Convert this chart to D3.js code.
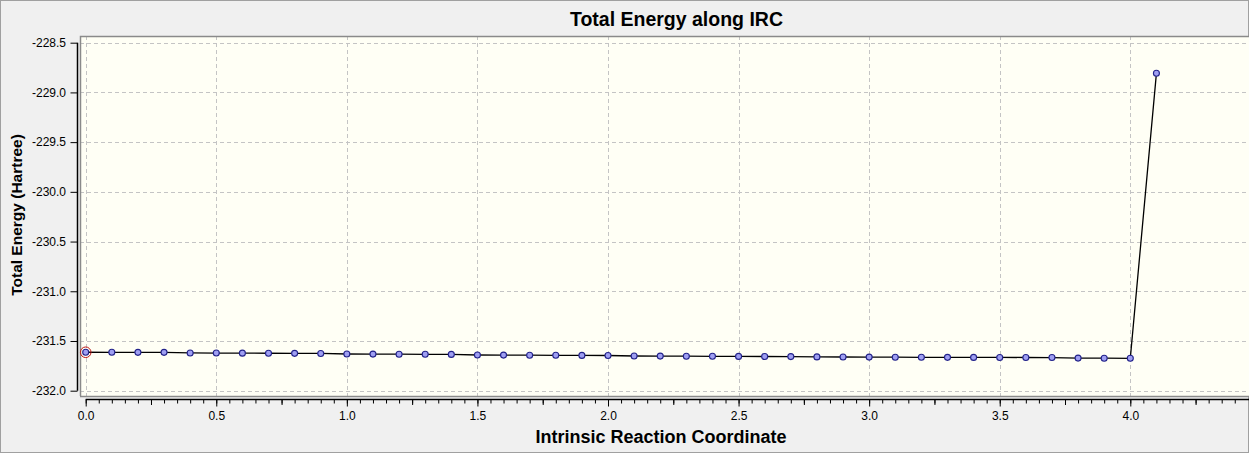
<!DOCTYPE html>
<html>
<head>
<meta charset="utf-8">
<title>Total Energy along IRC</title>
<script src="https://d3js.org/d3.v7.min.js"></script>
<style>
  body, html { margin: 0; padding: 0; background: #f0f0f0; }
  svg { display: block; font-family: "Liberation Sans", Arial, sans-serif; }
  .tick text { font-size: 12px; fill: #000; }
</style>
</head>
<body>
<svg id="chart" width="1249" height="453"></svg>
<script>
// IRC step coordinate
var coords = [0.0, 0.1, 0.2, 0.3, 0.4, 0.5, 0.6, 0.7, 0.8, 0.9,
              1.0, 1.1, 1.2, 1.3, 1.4, 1.5, 1.6, 1.7, 1.8, 1.9,
              2.0, 2.1, 2.2, 2.3, 2.4, 2.5, 2.6, 2.7, 2.8, 2.9,
              3.0, 3.1, 3.2, 3.3, 3.4, 3.5, 3.6, 3.7, 3.8, 3.9,
              4.0, 4.1];
// total energy (Hartree)
var energies = [-231.6135, -231.6138, -231.6141, -231.6145, -231.6205, -231.6215, -231.6225, -231.6235, -231.6245, -231.6255,
                -231.6310, -231.6320, -231.6330, -231.6340, -231.6350, -231.6410, -231.6420, -231.6430, -231.6440, -231.6450,
                -231.6460, -231.6510, -231.6520, -231.6530, -231.6540, -231.6550, -231.6560, -231.6570, -231.6600, -231.6610,
                -231.6620, -231.6630, -231.6640, -231.6645, -231.6650, -231.6655, -231.6660, -231.6665, -231.6720, -231.6730,
                -231.6740, -228.8080];
var yTicks = [-228.5, -229.0, -229.5, -230.0, -230.5, -231.0, -231.5, -232.0];
var xMajor = [0.0, 0.5, 1.0, 1.5, 2.0, 2.5, 3.0, 3.5, 4.0];
var xMid = [0.25, 0.75, 1.25, 1.75, 2.25, 2.75, 3.25, 3.75, 4.25];
var xMinor = d3.range(0, 89).map(function(i) { return i * 0.05; });

var W = 1249, H = 453;
var plot = { left: 80, top: 36, right: 1249, bottom: 396 };

var svg = d3.select("#chart");

var x = d3.scaleLinear().domain([0, 4]).range([85.7, 1130.3]);
var y = d3.scaleLinear().domain([-228.5, -232.0]).range([42.7, 390.7]);

// background + frame
svg.append("rect").attr("x", 0.5).attr("y", 0.5).attr("width", W - 1).attr("height", H - 1)
    .attr("fill", "#f0f0f0").attr("stroke", "#a0a0a0");

svg.append("rect")
    .attr("x", plot.left).attr("y", plot.top)
    .attr("width", plot.right - plot.left).attr("height", plot.bottom - plot.top)
    .attr("fill", "#fffff5");

// grid
var grid = svg.append("g").attr("stroke", "#c4c4c4").attr("stroke-dasharray", "4,3").attr("stroke-width", 1);
grid.selectAll("line.v").data(xMajor).enter().append("line")
    .attr("x1", function(d) { return Math.round(x(d)) + 0.5; })
    .attr("x2", function(d) { return Math.round(x(d)) + 0.5; })
    .attr("y1", plot.top).attr("y2", plot.bottom);
grid.selectAll("line.h").data(yTicks).enter().append("line")
    .attr("y1", function(d) { return Math.round(y(d)) + 0.5; })
    .attr("y2", function(d) { return Math.round(y(d)) + 0.5; })
    .attr("x1", plot.left).attr("x2", plot.right);

// plot border
svg.append("path")
    .attr("d", "M" + (plot.left + 0.5) + "," + plot.bottom + "V" + (plot.top + 0.5) + "H" + plot.right)
    .attr("fill", "none").attr("stroke", "#8a8a8a").attr("stroke-width", 1.5);
svg.append("line")
    .attr("x1", plot.left).attr("x2", plot.right)
    .attr("y1", plot.bottom + 0.5).attr("y2", plot.bottom + 0.5)
    .attr("stroke", "#8a8a8a").attr("stroke-width", 1.5);

// y axis
var yAxisG = svg.append("g").attr("transform", "translate(77.5,0)")
    .call(d3.axisLeft(y).tickValues(yTicks).tickSize(7).tickPadding(4.5)
        .tickFormat(d3.format(".1f")));
yAxisG.select(".domain").remove();
yAxisG.selectAll(".tick line").attr("stroke", "#000");
yAxisG.selectAll(".tick text").text(function(d) { return d3.format(".1f")(d).replace("\u2212", "-"); });
yAxisG.append("line").attr("x1", 0).attr("x2", 0)
    .attr("y1", y(-228.5)).attr("y2", y(-232.0)).attr("stroke", "#000").attr("stroke-width", 1.5);

// x axis: minor, mid, major ticks
var xAxisY = 399.5;
var minorG = svg.append("g").attr("transform", "translate(0," + xAxisY + ")")
    .call(d3.axisBottom(x).tickValues(xMinor).tickSize(4).tickFormat(""));
var midG = svg.append("g").attr("transform", "translate(0," + xAxisY + ")")
    .call(d3.axisBottom(x).tickValues(xMid).tickSize(5.5).tickFormat(""));
var majorG = svg.append("g").attr("transform", "translate(0," + xAxisY + ")")
    .call(d3.axisBottom(x).tickValues(xMajor).tickSize(7).tickPadding(5).tickFormat(d3.format(".1f")));
[minorG, midG, majorG].forEach(function(g) {
    g.select(".domain").remove();
    g.selectAll(".tick line").attr("stroke", "#000");
});
svg.append("line").attr("x1", x(0)).attr("x2", W)
    .attr("y1", xAxisY).attr("y2", xAxisY).attr("stroke", "#000").attr("stroke-width", 1.5);

// line + points
var pts = coords.map(function(c, i) { return [c, energies[i]]; });
svg.append("path").datum(pts)
    .attr("fill", "none").attr("stroke", "#000").attr("stroke-width", 1.3)
    .attr("d", d3.line().x(function(d) { return x(d[0]); }).y(function(d) { return y(d[1]); }));

svg.append("g").selectAll("circle").data(pts).enter().append("circle")
    .attr("cx", function(d) { return x(d[0]); })
    .attr("cy", function(d) { return y(d[1]); })
    .attr("r", 3)
    .attr("fill", "#9f9ff2").attr("stroke", "#22228a").attr("stroke-width", 1.1);

// highlighted current point
svg.append("circle")
    .attr("cx", x(pts[0][0])).attr("cy", y(pts[0][1])).attr("r", 5.3)
    .attr("fill", "none").attr("stroke", "#c01818").attr("stroke-width", 1);

// titles
svg.append("text").attr("x", 676.5).attr("y", 26).attr("text-anchor", "middle")
    .attr("font-size", 19.5).attr("font-weight", "bold").text("Total Energy along IRC");
svg.append("text").attr("x", 661).attr("y", 443).attr("text-anchor", "middle")
    .attr("font-size", 18).attr("font-weight", "bold").text("Intrinsic Reaction Coordinate");
svg.append("text").attr("transform", "translate(22,215) rotate(-90)").attr("text-anchor", "middle")
    .attr("font-size", 15.5).attr("font-weight", "bold").text("Total Energy (Hartree)");
</script>
</body>
</html>
